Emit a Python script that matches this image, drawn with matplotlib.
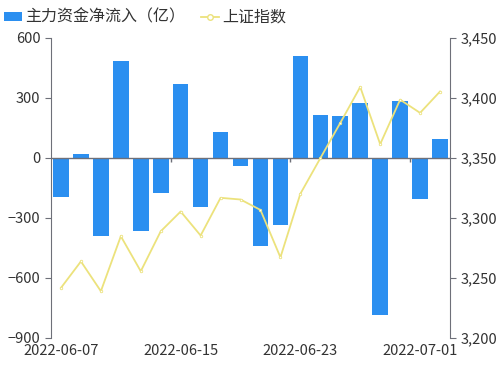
import numpy as np
import matplotlib
matplotlib.use("Agg")
import matplotlib.pyplot as plt
from matplotlib.patches import Patch
from matplotlib.lines import Line2D
from matplotlib.ticker import FuncFormatter

plt.rcParams['font.family'] = ['Noto Sans CJK SC', 'DejaVu Sans']

# data
dates = ["2022-06-07", "2022-06-08", "2022-06-09", "2022-06-10", "2022-06-13",
         "2022-06-14", "2022-06-15", "2022-06-16", "2022-06-17", "2022-06-20",
         "2022-06-21", "2022-06-22", "2022-06-23", "2022-06-24", "2022-06-27",
         "2022-06-28", "2022-06-29", "2022-06-30", "2022-07-01", "2022-07-04"]
net_inflow = [-195, 18, -392, 483, -367, -175, 372, -247, 130, -42,
              -440, -333, 510, 213, 210, 275, -783, 285, -207, 97]
sh_index = [3241.8, 3263.8, 3239.0, 3284.8, 3255.6, 3288.9, 3305.4, 3285.4, 3316.8, 3315.4,
            3306.7, 3267.2, 3320.2, 3349.8, 3379.2, 3409.2, 3361.5, 3398.6, 3387.6, 3405.4]
shown_dates = ["2022-06-07", "2022-06-15", "2022-06-23", "2022-07-01"]

bar_color = "#2b8ff0"
line_color = "#ece27c"
text_color = "#333333"
axis_color = "#6e7079"

fig = plt.figure(figsize=(5, 3.75), dpi=100)
ax = fig.add_axes([0.102, 0.0987, 0.798, 0.8])
x = np.arange(len(dates))

ax.bar(x, net_inflow, width=0.78, color=bar_color, zorder=2)
ax.axhline(0, color=axis_color, lw=1, zorder=3)
ax.set_xlim(-0.5, len(dates) - 0.5)
ax.set_ylim(-900, 600)
ax.set_yticks(np.arange(-900, 601, 300))
ax.set_xticks([dates.index(d) for d in shown_dates])
ax.set_xticklabels(shown_dates)
ax.tick_params(axis='x', length=0, labelsize=10.5, colors=text_color, pad=4)
ax.tick_params(axis='y', length=4, labelsize=10.5, colors=text_color, color=axis_color)
for s in ["top", "bottom", "right"]:
    ax.spines[s].set_visible(False)
ax.spines["left"].set_color(axis_color)

# small boundary ticks on the zero line
bounds = [dates.index(d) - 0.5 for d in shown_dates[1:]]
ax.vlines(bounds, 0, -20, color=axis_color, lw=1, zorder=3)

ax2 = ax.twinx()
ax2.plot(x, sh_index, color=line_color, lw=1.3, marker='o', ms=1.8,
         mfc='white', mec=line_color, mew=0.6, zorder=4)
ax2.set_ylim(3200, 3450)
ax2.set_yticks(np.arange(3200, 3451, 50))
ax2.yaxis.set_major_formatter(FuncFormatter(lambda v, p: f"{int(v):,}"))
ax2.tick_params(axis='y', length=4, labelsize=10.5, colors=text_color, color=axis_color)
for s in ["top", "bottom", "left"]:
    ax2.spines[s].set_visible(False)
ax2.spines["right"].set_color(axis_color)

handles = [Patch(facecolor=bar_color, edgecolor='none'),
           Line2D([0], [0], color=line_color, lw=1.3, marker='o', ms=4,
                  mfc='white', mec=line_color)]
fig.legend(handles, ["主力资金净流入（亿）", "上证指数"], loc="upper left",
           bbox_to_anchor=(-0.02, 1.015), ncol=2, frameon=False, fontsize=11.5,
           handlelength=1.1, handleheight=0.5, handletextpad=0.2, columnspacing=1.0,
           labelcolor=text_color)

fig.savefig("out.png", dpi=100)
